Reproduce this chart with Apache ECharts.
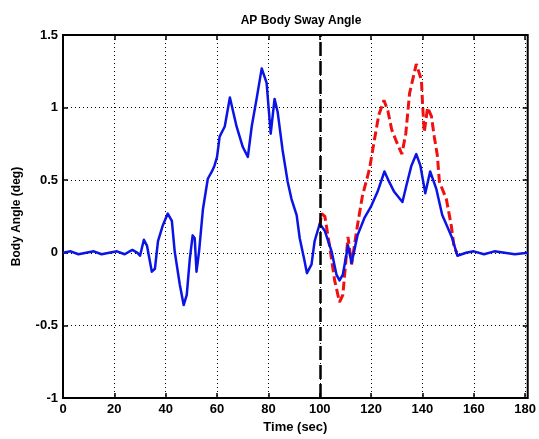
<!DOCTYPE html>
<html>
<head>
<meta charset="utf-8">
<script src="https://cdn.jsdelivr.net/npm/echarts@6/dist/echarts.min.js"></script>
<style>
  html, body { margin: 0; padding: 0; background: #fff; }
  #chart { width: 539px; height: 439px; }
</style>
</head>
<body>
<div id="chart"></div>
<script>
/* ---------------- data ---------------- */
const blueTime = [0, 3, 6, 9, 12, 15, 18, 21, 24, 27, 29, 30, 31.5, 32.7, 34.6, 35.8, 37, 38.9, 40.8, 42.4, 43.5, 45.5, 47, 48.2, 49.4, 50.5, 51.3, 52, 53, 54.5, 56.4, 58, 59, 60, 61, 63, 65, 67.6, 70, 72, 73.5, 75.4, 77.4, 79.3, 80.9, 82.4, 83.6, 85.5, 87.5, 89, 91, 92.2, 94, 95, 96.8, 98, 100, 102, 104.6, 106.5, 107.7, 109, 111, 112.4, 114.7, 117.4, 120, 122.5, 125.2, 127, 129, 132.2, 133.7, 135.7, 137.6, 139.2, 141.1, 143, 145.4, 147.7, 149.7, 151.6, 153.6, 157, 160, 164, 168, 172, 176, 181];
const blueAngle = [0, 0.01, -0.01, 0, 0.01, -0.01, 0, 0.01, -0.01, 0.02, 0, -0.02, 0.09, 0.05, -0.13, -0.11, 0.08, 0.19, 0.27, 0.22, 0.01, -0.22, -0.36, -0.29, -0.04, 0.12, 0.10, -0.13, 0.01, 0.30, 0.51, 0.56, 0.60, 0.66, 0.80, 0.87, 1.07, 0.87, 0.73, 0.66, 0.87, 1.06, 1.27, 1.17, 0.82, 1.06, 0.97, 0.71, 0.49, 0.37, 0.26, 0.10, -0.05, -0.14, -0.08, 0.08, 0.20, 0.15, 0.01, -0.15, -0.19, -0.15, 0.05, -0.07, 0.12, 0.24, 0.32, 0.42, 0.56, 0.49, 0.42, 0.35, 0.46, 0.60, 0.68, 0.60, 0.41, 0.56, 0.44, 0.26, 0.18, 0.10, -0.02, 0, 0.01, -0.01, 0.01, 0, -0.01, 0];

const redTime = [100, 100.7, 102, 103.8, 105.8, 107.7, 109, 111, 112.4, 114.7, 116.6, 119.4, 121.3, 123, 125, 126.5, 128, 130, 132, 133.5, 135, 137.6, 139.6, 140, 140.7, 142, 143.5, 144.6, 145.8, 146.6, 149.3, 151.2, 152.4, 153.5];
const redAngle = [0.18, 0.27, 0.25, 0.05, -0.19, -0.34, -0.29, 0.11, -0.08, 0.19, 0.39, 0.58, 0.78, 0.95, 1.05, 0.98, 0.85, 0.76, 0.68, 0.82, 1.10, 1.30, 1.19, 1.04, 0.83, 1.00, 0.94, 0.80, 0.67, 0.49, 0.37, 0.19, 0.03, 0];

const xTicks = [0, 20, 40, 60, 80, 100, 120, 140, 160, 180];
const yTicks = [-1, -0.5, 0, 0.5, 1, 1.5];
const markerTime = 100;

/* ---------------- chart ---------------- */
const font = 'Liberation Sans';
const chart = echarts.init(document.getElementById('chart'));

const zip = (xs, ys) => xs.map((x, i) => [x, ys[i]]);
const tickText = (v, list) => (list.includes(v) ? String(v) : '');
const tickStyle = { inside: true, length: 5, lineStyle: { color: '#000', width: 1.5 } };

chart.setOption({
  animation: false,
  backgroundColor: '#fff',
  title: {
    text: 'AP Body Sway Angle',
    left: 296, top: 10, textAlign: 'center',
    textStyle: { fontFamily: font, fontSize: 12, fontWeight: 'bold', color: '#000' }
  },
  grid: { left: 63, right: 10, top: 35, bottom: 38, show: true, borderColor: '#000', borderWidth: 2, backgroundColor: '#fff' },
  xAxis: [{
    type: 'value', min: 0, max: 181, interval: 20,
    name: 'Time (sec)', nameLocation: 'middle', nameGap: 23,
    nameTextStyle: { fontFamily: font, fontSize: 13, fontWeight: 'bold', color: '#000' },
    axisLine: { show: false, onZero: false },
    axisTick: { ...tickStyle, customValues: xTicks },
    axisLabel: { fontFamily: font, fontSize: 13, fontWeight: 'bold', color: '#000', margin: 5, customValues: xTicks, formatter: v => tickText(v, xTicks) },
    splitLine: { show: true, lineStyle: { color: '#000', width: 1, type: [1, 3] } }
  }, {
    type: 'value', position: 'top', min: 0, max: 181, interval: 20,
    axisLine: { show: false, onZero: false },
    axisTick: { ...tickStyle, customValues: xTicks },
    axisLabel: { show: false },
    splitLine: { show: false }
  }],
  yAxis: [{
    type: 'value', min: -1, max: 1.5, interval: 0.5,
    name: 'Body Angle (deg)', nameLocation: 'middle', nameGap: 40,
    nameTextStyle: { fontFamily: font, fontSize: 12, fontWeight: 'bold', color: '#000' },
    axisLine: { show: false, onZero: false },
    axisTick: { ...tickStyle, customValues: yTicks },
    axisLabel: { fontFamily: font, fontSize: 13, fontWeight: 'bold', color: '#000', margin: 5 },
    splitLine: { show: true, lineStyle: { color: '#000', width: 1, type: [1, 3] } }
  }, {
    type: 'value', position: 'right', min: -1, max: 1.5, interval: 0.5,
    axisLine: { show: false, onZero: false },
    axisTick: { ...tickStyle, customValues: yTicks },
    axisLabel: { show: false },
    splitLine: { show: false }
  }],
  series: [{
    name: 'blue', type: 'line', showSymbol: false, smooth: false,
    data: zip(blueTime, blueAngle),
    lineStyle: { color: '#0a14e6', width: 2.5, join: 'round' },
    z: 3
  }, {
    name: 'red', type: 'line', showSymbol: false, smooth: false,
    data: zip(redTime, redAngle),
    lineStyle: { color: '#f01010', width: 3, type: [9, 4] },
    z: 2,
    markLine: {
      silent: true, symbol: 'none', label: { show: false },
      lineStyle: { color: '#000', width: 2.5, type: [14, 5] },
      data: [{ xAxis: markerTime }]
    }
  }]
});
</script>
</body>
</html>
